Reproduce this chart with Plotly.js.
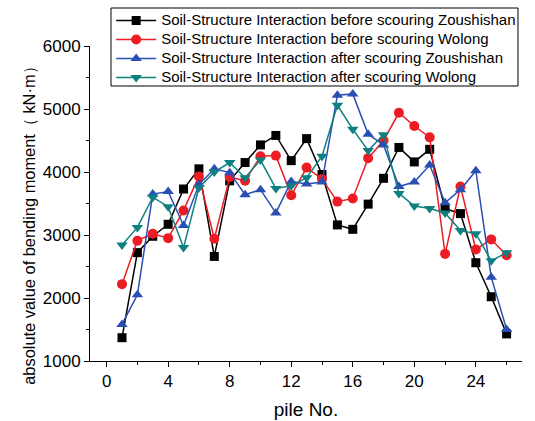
<!DOCTYPE html>
<html>
<head>
<meta charset="utf-8">
<script src="https://cdn.plot.ly/plotly-3.0.1.min.js"></script>
<style>html,body{margin:0;padding:0;background:#fff;}#chart{width:535px;height:421px;}</style>
</head>
<body>
<div id="chart"></div>
<script>
const piles = [1,2,3,4,5,6,7,8,9,10,11,12,13,14,15,16,17,18,19,20,21,22,23,24,25,26];
const beforeZoushishan = [1370,2720,2980,3170,3730,4050,2660,3860,4150,4430,4580,4180,4530,3960,3160,3090,3490,3900,4390,4160,4360,3420,3340,2560,2020,1430];
const beforeWolong = [2220,2910,3020,2950,3390,3930,2940,3920,3860,4250,4260,3630,4070,3890,3530,3580,4220,4500,4940,4730,4550,2700,3770,2770,2930,2680];
const afterZoushishan = [1580,2050,3650,3690,3150,3800,4050,3990,3640,3720,3350,3850,3810,3840,5220,5240,4600,4430,3770,3840,4110,3510,3720,4020,2330,1500];
const afterWolong = [2840,3120,3600,3450,2800,3750,4000,4150,3910,4190,3740,3780,3910,4250,5060,4680,4340,4590,3660,3460,3420,3350,3070,3020,2590,2720];
const names = [
  "Soil-Structure Interaction before scouring Zoushishan",
  "Soil-Structure Interaction before scouring Wolong",
  "Soil-Structure Interaction after scouring Zoushishan",
  "Soil-Structure Interaction after scouring Wolong"
];
const yTitle = "absolute value of bending moment（ kN·m）";
const colors = ["#000000", "#ec1c24", "#2a4fb4", "#0f8080"];
const symbols = ["square", "circle", "triangle-up", "triangle-down"];
const sizes = [9, 10, 10, 10];
const series = [beforeZoushishan, beforeWolong, afterZoushishan, afterWolong];

const traces = series.map((ys, i) => ({
  x: piles, y: ys, name: '<span style="font-size:15px">' + names[i] + '</span>',
  type: "scatter", mode: "lines+markers",
  line: {color: colors[i], width: 1.5},
  marker: {symbol: symbols[i], size: sizes[i], color: colors[i], line: {width: 0}}
}));

const fam = "Arial, 'Liberation Sans', sans-serif";
const axisFont = {family: fam, size: 17, color: "#000"};
const layout = {
  width: 535, height: 421,
  margin: {l: 90, r: 13, t: 46, b: 60, autoexpand: false},
  paper_bgcolor: "#fff", plot_bgcolor: "#fff",
  showlegend: true,
  legend: {
    x: 0.049, y: 1.127, xanchor: "left", yanchor: "top",
    borderwidth: 0, bgcolor: "rgba(255,255,255,0)",
    font: {family: fam, size: 11, color: "#000"},
    tracegroupgap: 0, itemwidth: 40
  },
  shapes: [{
    type: "rect", xref: "paper", yref: "paper",
    x0: 0.0486, x1: 0.9907, y0: 0.873, y1: 1.1206,
    line: {color: "#000", width: 1}, fillcolor: "rgba(0,0,0,0)", layer: "above"
  }],
  xaxis: {
    range: [-1.08, 27], tickmode: "linear", tick0: 0, dtick: 4, automargin: false,
    showgrid: false, zeroline: false, showline: true, linecolor: "#000", linewidth: 1,
    ticks: "outside", ticklen: 5, tickcolor: "#000", tickfont: axisFont,
    minor: {dtick: 2, tick0: 0, ticks: "outside", ticklen: 3, tickcolor: "#000", showgrid: false},
    title: {text: "pile No.", font: {family: fam, size: 19, color: "#000"}, standoff: 12}
  },
  yaxis: {
    range: [1000, 6000], tickmode: "linear", tick0: 1000, dtick: 1000, automargin: false,
    showgrid: false, zeroline: false, showline: true, linecolor: "#000", linewidth: 1,
    ticks: "outside", ticklen: 5, tickcolor: "#000", tickfont: axisFont,
    minor: {dtick: 500, tick0: 1000, ticks: "outside", ticklen: 3, tickcolor: "#000", showgrid: false}
  },
  annotations: [{
    text: yTitle, textangle: -90, showarrow: false,
    xref: "paper", yref: "paper", x: -0.142, y: 0.441, xanchor: "center", yanchor: "middle",
    font: {family: fam, size: 16.4, color: "#000"}
  }]
};
Plotly.newPlot("chart", traces, layout, {displayModeBar: false, staticPlot: true});
</script>
</body>
</html>
